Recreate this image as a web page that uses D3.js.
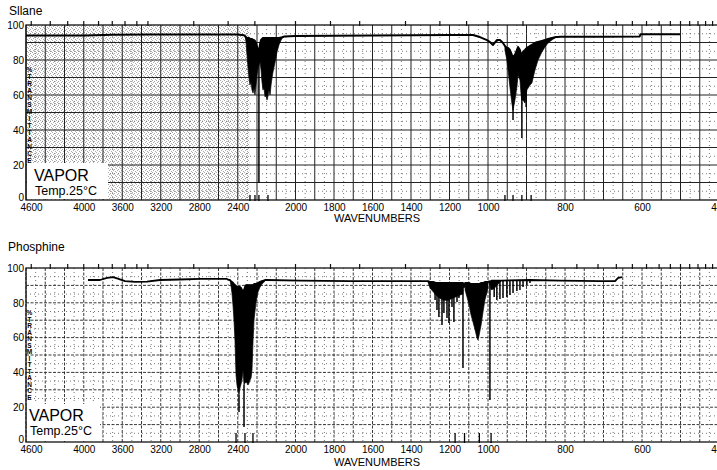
<!DOCTYPE html>
<html>
<head>
<meta charset="utf-8">
<script src="https://cdn.jsdelivr.net/npm/d3@7"></script>
<style>
  body { margin: 0; background: #fff; }
  text { font-family: "Liberation Sans", Arial, Helvetica, sans-serif; }
</style>
</head>
<body>
<div id="chart"></div>
<script>
// Etiquetas de los ejes
const xLabels = [4600, 4000, 3600, 3200, 2800, 2400, 2000, 1800, 1600, 1400, 1200, 1000, 800, 600, 400];
const yLabels = [0, 20, 40, 60, 80, 100];
// marcas superiores en micras
const micronTicks = [2.2, 2.3, 2.4, 2.5, 2.6, 2.7, 2.8, 2.9, 3.0, 3.5, 4, 4.5, 5, 5.5, 6, 7, 8, 9, 10,
  11, 12, 13, 14, 15, 16, 17, 18, 19, 20, 21, 22, 23, 24];
const axisLetters = "%TRANSMITTANCE".split("");

// Silano: línea base [cm-1, %T]
const silaneBase = [[4600, 94.0], [4300, 94.0], [3990, 94.0], [3700, 94.4], [3300, 94.6], [2800, 94.6],
  [2400, 94.6], [2335, 94.2], [2060, 93.4], [2000, 93.7], [1600, 94.0], [1200, 94.3], [1078, 94.3],
  [1042, 93.1], [1005, 91.4], [995, 90.3], [987, 88.6], [977, 91.4], [969, 91.4], [961, 89.7],
  [818, 93.1], [813, 93.3], [700, 93.3], [606, 93.4], [604, 94.7], [501, 94.7]];
// bandas con estructura fina [cm-1, %T arriba, %T abajo]
const silaneBandSiH = [[2325, 93.7, 93.7], [2314, 93.1, 90.3], [2304, 92.6, 82.9], [2293, 92.6, 75.4],
  [2283, 92.6, 69.7], [2273, 92.0, 65.7], [2262, 92.0, 67.4], [2252, 92.0, 62.9], [2241, 91.4, 61.1],
  [2231, 91.4, 64.0], [2221, 90.9, 60.0], [2210, 89.7, 65.7], [2200, 87.4, 71.4], [2195, 84.6, 75.4],
  [2190, 85.7, 77.1], [2184, 89.1, 78.9], [2179, 91.4, 74.3], [2174, 92.0, 67.4], [2169, 92.6, 62.9],
  [2164, 92.6, 64.0], [2158, 92.6, 58.9], [2153, 92.6, 60.0], [2148, 92.6, 57.1], [2143, 92.6, 59.4],
  [2138, 92.6, 62.9], [2132, 92.6, 60.0], [2127, 92.6, 65.7], [2122, 92.6, 69.7], [2117, 92.6, 73.1],
  [2106, 92.6, 78.9], [2096, 92.6, 84.6], [2086, 92.6, 88.6], [2075, 92.8, 91.4], [2065, 93.1, 93.1]];
const silaneBandBend = [[956, 88.0, 85.7], [951, 86.9, 80.0], [948, 86.9, 74.3], [943, 85.7, 64.6],
  [938, 82.9, 55.4], [935, 81.7, 51.4], [930, 82.9, 57.1], [925, 85.7, 64.6], [922, 87.4, 71.4],
  [917, 85.7, 68.6], [914, 82.9, 60.0], [912, 82.9, 57.1], [909, 84.6, 57.1], [904, 85.7, 55.4],
  [899, 86.9, 62.9], [891, 88.0, 65.7], [886, 88.6, 66.9], [878, 89.7, 74.3], [870, 90.3, 80.0],
  [860, 90.9, 84.6], [852, 91.4, 87.4], [844, 92.0, 89.7], [834, 92.6, 91.4], [823, 93.1, 93.1]];
// líneas agudas [cm-1, %T arriba, %T punta]
const silaneSpikes = [[2190, 85.7, 9.7], [935, 81.7, 45.7], [912, 82.9, 35.4], [901, 86.0, 53.1]];
const silaneMarks = [2273, 2221, 2190, 2143, 956, 935, 912, 888];

// Fosfina
const phosphineBase = [[3956, 93.1], [3831, 93.1], [3758, 94.3], [3696, 94.8], [3654, 94.0], [3571, 92.5],
  [3467, 92.0], [3343, 92.2], [3208, 93.1], [3000, 93.4], [2792, 93.7], [2512, 93.7], [2490, 93.1],
  [2150, 93.1], [1977, 92.8], [1717, 92.5], [1457, 92.5], [1320, 92.5], [1125, 89.0],
  [997, 92.3], [990, 92.8], [891, 93.1], [813, 92.8], [709, 92.5], [670, 92.5], [662, 94.3], [652, 94.8]];
const phosphineBandPH = [[2480, 93.1, 93.1], [2470, 92.5, 89.7], [2460, 92.0, 85.6], [2449, 91.4, 78.2],
  [2439, 90.8, 70.1], [2429, 90.2, 58.6], [2418, 89.7, 38.5], [2408, 89.1, 32.8], [2397, 89.1, 29.9],
  [2387, 89.1, 27.0], [2377, 89.1, 31.0], [2366, 88.5, 33.3], [2356, 87.4, 35.6], [2345, 86.2, 41.4],
  [2335, 87.4, 32.8], [2325, 89.1, 33.9], [2314, 90.2, 34.5], [2304, 90.2, 33.9], [2293, 90.2, 32.8],
  [2283, 90.2, 33.9], [2273, 90.2, 35.6], [2262, 90.2, 36.8], [2252, 90.2, 41.4], [2241, 90.2, 58.6],
  [2231, 90.8, 70.1], [2210, 90.8, 80.5], [2195, 91.4, 86.2], [2184, 92.0, 89.1], [2174, 92.5, 90.8],
  [2158, 93.1, 92.5]];
const phosphineBandA = [[1312, 92.5, 92.0], [1301, 92.0, 88.5], [1286, 92.0, 86.5], [1270, 91.4, 84.5],
  [1249, 91.4, 82.5], [1229, 91.4, 81.5], [1208, 91.4, 81.5], [1187, 91.4, 82.5], [1166, 91.4, 83.5],
  [1145, 91.4, 84.5], [1130, 91.4, 85.1]];
const phosphineBandB = [[1119, 91.4, 87.4], [1109, 91.4, 83.3], [1098, 91.4, 78.7], [1088, 90.8, 73.0],
  [1078, 90.8, 69.0], [1067, 90.8, 64.4], [1057, 90.8, 59.8], [1052, 90.8, 58.6], [1047, 90.8, 60.9],
  [1036, 91.4, 67.2], [1026, 91.4, 74.7], [1016, 92.0, 81.6], [1005, 92.0, 86.2], [1000, 92.0, 88.5]];
const phosphineBandC = [[997, 92.3, 92.3], [992, 92.5, 87.5], [985, 92.8, 88.0], [975, 92.8, 90.5], [965, 92.8, 92.8]];
const phosphineSpikes = [[2387, 27.0, 17.2], [2335, 32.8, 8.6],
  [1275, 91.4, 81.6], [1265, 91.4, 75.9], [1255, 91.4, 71.8], [1239, 91.4, 67.2], [1229, 91.4, 74.1],
  [1213, 91.4, 71.3], [1203, 91.4, 68.4], [1187, 91.4, 77.6], [1177, 91.4, 69.0], [1161, 91.4, 80.5],
  [1151, 91.4, 82.8], [1130, 91.4, 42.5], [995, 92.0, 24.1],
  [984, 92.8, 83.3], [977, 92.8, 81.6], [969, 92.8, 82.2], [961, 92.8, 82.8], [951, 92.8, 83.3],
  [943, 92.8, 84.5], [935, 92.8, 85.6], [925, 92.8, 86.8], [917, 92.8, 87.4], [909, 92.8, 89.1],
  [899, 92.8, 90.2], [891, 92.8, 91.4]];
const phosphineMarks = [2418, 2325, 2242, 1171, 1122, 1045, 992];

// Configuración
const width = 717;
const height = 470;

const svg = d3.select("#chart")
  .append("svg")
  .attr("width", width)
  .attr("height", height);

svg.append("rect").attr("width", width).attr("height", height).attr("fill", "white");

// patrón punteado gris (papel escaneado)
const pat = svg.append("defs").append("pattern")
  .attr("id", "stip").attr("width", 4).attr("height", 4).attr("patternUnits", "userSpaceOnUse");
[[0, 0], [2, 1], [1, 2], [3, 3]].forEach(p => {
  pat.append("rect").attr("x", p[0]).attr("y", p[1]).attr("width", 1).attr("height", 1).attr("fill", "#777");
});

// escala x por tramos (la carta cambia de escala en 2200 y 1000)
const x = d3.scaleLinear().domain([4600, 2200, 1000, 400]).range([26, 257, 488, 719]);

const majorX = d3.range(4600, 2200, -200).concat(d3.range(2200, 1000, -100), d3.range(1000, 399, -50));
const minorX = d3.range(4500, 2200, -200).concat(d3.range(2150, 1000, -100), d3.range(975, 399, -50));

function drawPanel(o) {
  const y = d3.scaleLinear().domain([0, 100]).range([o.bottom, o.top]);
  const g = svg.append("g");

  // título
  g.append("text").attr("x", o.titleX).attr("y", o.titleY)
    .style("font-size", "12px").text(o.title);

  if (o.stipple) {
    g.append("rect")
      .attr("x", x(4600)).attr("y", y(100))
      .attr("width", x(2280) - x(4600)).attr("height", y(0) - y(100))
      .attr("fill", "url(#stip)").attr("opacity", 0.6);
  }

  // rejilla
  const majorStyle = o.dashed ? "3,1.5" : null;
  g.selectAll(".vmaj").data(majorX).enter().append("line")
    .attr("x1", d => x(d)).attr("x2", d => x(d))
    .attr("y1", y(100)).attr("y2", y(0))
    .attr("stroke", "#222").attr("stroke-width", o.dashed ? 0.9 : 1)
    .attr("stroke-dasharray", majorStyle);
  g.selectAll(".vmin").data(minorX).enter().append("line")
    .attr("x1", d => x(d)).attr("x2", d => x(d))
    .attr("y1", y(100)).attr("y2", y(0))
    .attr("stroke", "#555").attr("stroke-width", 0.8).attr("stroke-dasharray", "1,3");
  g.selectAll(".hmaj").data(d3.range(10, 100, 10)).enter().append("line")
    .attr("x1", x(4600)).attr("x2", x(400))
    .attr("y1", d => y(d)).attr("y2", d => y(d))
    .attr("stroke", "#222").attr("stroke-width", o.dashed ? 0.9 : 1)
    .attr("stroke-dasharray", majorStyle);
  g.selectAll(".hmin").data(d3.range(5, 100, 10)).enter().append("line")
    .attr("x1", x(4600)).attr("x2", x(400))
    .attr("y1", d => y(d)).attr("y2", d => y(d))
    .attr("stroke", "#555").attr("stroke-width", 0.8).attr("stroke-dasharray", "1,3");

  // marco
  g.append("rect")
    .attr("x", x(4600)).attr("y", y(100))
    .attr("width", x(400) - x(4600)).attr("height", y(0) - y(100))
    .attr("fill", "none").attr("stroke", "#111").attr("stroke-width", 1.3);

  // marcas superiores (micras)
  g.selectAll(".mt").data(micronTicks).enter().append("line")
    .attr("x1", d => x(10000 / d)).attr("x2", d => x(10000 / d))
    .attr("y1", y(100) - 4).attr("y2", y(100) + 1)
    .attr("stroke", "#111").attr("stroke-width", 1.2);

  // bandas rellenas
  const area = d3.area().x(d => x(d[0])).y0(d => y(d[2])).y1(d => y(d[1]));
  o.bands.forEach(b => {
    g.append("path").datum(b).attr("d", area)
      .attr("fill", "#000").attr("stroke", "#000").attr("stroke-width", 0.7);
  });

  // traza principal
  const trace = o.base.concat(...o.bands.map(b => b.map(d => [d[0], d[1]])))
    .sort((a, b) => b[0] - a[0]);
  const line = d3.line().x(d => x(d[0])).y(d => y(d[1]));
  g.append("path").datum(trace).attr("d", line)
    .attr("fill", "none").attr("stroke", "#000").attr("stroke-width", o.lineW)
    .attr("stroke-linejoin", "round");

  // líneas agudas
  g.selectAll(".sp").data(o.spikes).enter().append("line")
    .attr("x1", d => x(d[0])).attr("x2", d => x(d[0]))
    .attr("y1", d => y(d[1])).attr("y2", d => y(d[2]))
    .attr("stroke", "#000").attr("stroke-width", 1.5);

  // marcas de picos
  g.selectAll(".pk").data(o.marks).enter().append("line")
    .attr("x1", d => x(d)).attr("x2", d => x(d))
    .attr("y1", y(0) - o.markH).attr("y2", y(0) + 1)
    .attr("stroke", "#000").attr("stroke-width", 1.3);

  // caja VAPOR
  g.append("rect").attr("x", 27).attr("y", o.boxY)
    .attr("width", o.boxW).attr("height", y(0) - o.boxY - 1).attr("fill", "white");
  g.append("text").attr("x", o.vx).attr("y", o.vy)
    .style("font-size", "16px").text("VAPOR");
  g.append("text").attr("x", o.vx + 1).attr("y", o.vy + 13.5)
    .style("font-size", "12.5px").text("Temp.25°C");

  // letras verticales
  g.selectAll(".lt").data(axisLetters).enter().append("text")
    .attr("x", 29.5).attr("y", (d, i) => y(100) + 47 + i * o.letterStep)
    .attr("text-anchor", "middle")
    .style("font-size", "6.5px").style("font-weight", "bold")
    .text(d => d);

  // ejes
  const gx = g.append("g").attr("transform", `translate(0,${y(0)})`)
    .call(d3.axisBottom(x).tickValues(xLabels).tickSize(0).tickPadding(o.xPad).tickFormat(d3.format("d")));
  gx.select(".domain").remove();
  gx.selectAll("text").attr("font-family", null).style("font-size", "10px").attr("fill", "#000");
  gx.selectAll("text").filter(d => d === 4600).attr("dx", 5);

  const gy = g.append("g").attr("transform", `translate(${x(4600)},0)`)
    .call(d3.axisLeft(y).tickValues(yLabels).tickSize(0).tickPadding(2));
  gy.select(".domain").remove();
  gy.selectAll("text").attr("font-family", null).style("font-size", "10px").attr("fill", "#000");
  gy.selectAll("text").filter(d => d === 0).attr("dy", "0");

  g.append("text").attr("x", 377).attr("y", o.wnY)
    .attr("text-anchor", "middle").style("font-size", "11px").text("WAVENUMBERS");
}

drawPanel({
  title: "Sllane", titleX: 9, titleY: 15,
  top: 25, bottom: 200, stipple: true, dashed: false, lineW: 2,
  base: silaneBase, bands: [silaneBandSiH, silaneBandBend], spikes: silaneSpikes,
  marks: silaneMarks, markH: 5,
  boxY: 163, boxW: 81, vx: 34, vy: 181, letterStep: 7,
  xPad: 4, wnY: 222
});

drawPanel({
  title: "Phosphine", titleX: 8, titleY: 251,
  top: 268, bottom: 442, stipple: false, dashed: true, lineW: 1.8,
  base: phosphineBase, bands: [phosphineBandPH, phosphineBandA, phosphineBandB, phosphineBandC],
  spikes: phosphineSpikes, marks: phosphineMarks, markH: 9,
  boxY: 404, boxW: 73, vx: 29, vy: 421, letterStep: 6.5,
  xPad: 4, wnY: 466
});
</script>
</body>
</html>
